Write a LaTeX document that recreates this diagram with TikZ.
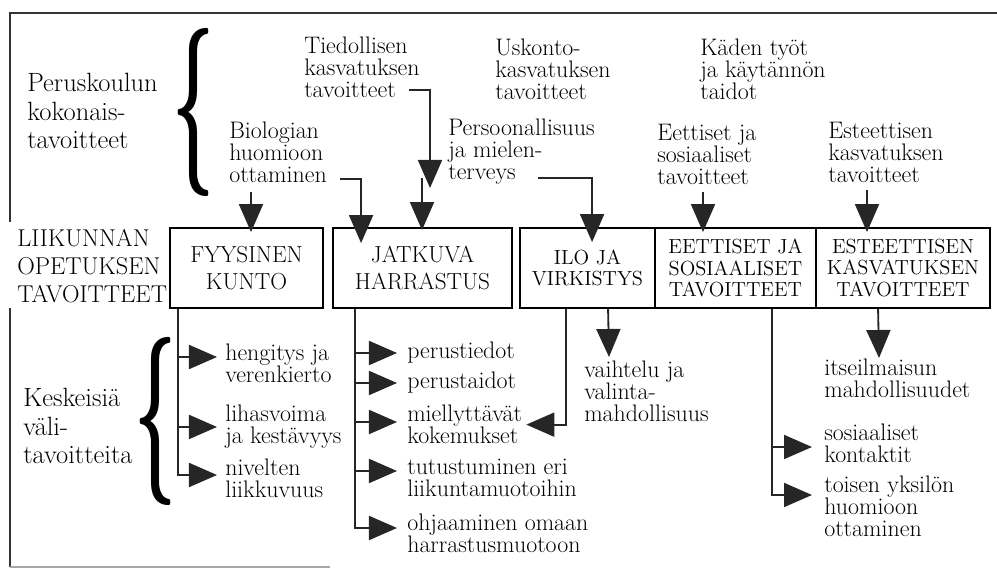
\documentclass[tikz,border=0pt]{standalone}
\usepackage{fontspec}
\usepackage{graphicx}
\usetikzlibrary{arrows.meta,calc}

\newcommand{\lblsize}{\fontsize{18.8}{20.3}\selectfont}
\newcommand{\capsize}{\fontsize{17.3}{19.9}\selectfont}
\newcommand{\txtsize}{\fontsize{17}{15.6}\selectfont}
\newcommand{\boxsize}{\fontsize{14.5}{15.3}\selectfont}
\newcommand{\bigboxsize}{\fontsize{16.5}{19.2}\selectfont}

\begin{document}
\begin{tikzpicture}[x=0.025cm, y=-0.025cm,
    txt/.style={anchor=north west, align=left, inner sep=0pt, font=\txtsize},
    lbl/.style={anchor=north west, align=left, inner sep=0pt, font=\lblsize},
    goal/.style={draw, line width=1.3pt, minimum height=2cm, align=center, inner sep=0pt, font=\boxsize},
    link/.style={line width=1.3pt, black!85},
    arr/.style={link, -{Triangle[length=0.7cm, width=0.6cm]}},
    frame/.style={line width=1.4pt, black!80}]

    \useasboundingbox (0,0) rectangle (997,569);

    % Outer frame
    \draw[frame] (10,222) -- (10,13) -- (997,13);
    \draw[frame] (10,308) -- (10,567);
    \draw[frame, black!35] (10,567) -- (330,567);

    % Labels on the left
    \node[lbl] (pk) at (27,73) {Peruskoulun\\kokonais-\\tavoitteet};
    \node[lbl, font=\capsize] (lo) at (17,229) {LIIKUNNAN\\OPETUKSEN\\TAVOITTEET};
    \node[lbl] (kv) at (23,388) {Keskeisiä\\väli-\\tavoitteita};

    % Braces
    \node[inner sep=0pt] (br1) at (194,112) {\resizebox*{1.05cm}{4.2cm}{\bfseries\{}};
    \node[inner sep=0pt] (br2) at (156,421) {\resizebox*{1.05cm}{4.2cm}{\bfseries\{}};

    % Overall aims of the school
    \node[txt] (tied) at (304,37) {Tiedollisen\\kasvatuksen\\tavoitteet};
    \node[txt] (usko) at (495,39) {Uskonto-\\kasvatuksen\\tavoitteet};
    \node[txt] (kade) at (700,39) {Käden työt\\ja käytännön\\taidot};
    \node[txt] (bio) at (229,122) {Biologian\\huomioon\\ottaminen};
    \node[txt] (pers) at (448,119) {Persoonallisuus\\ja mielen-\\terveys};
    \node[txt] (eet) at (657,124) {Eettiset ja\\sosiaaliset\\tavoitteet};
    \node[txt] (est) at (828,122) {Esteettisen\\kasvatuksen\\tavoitteet};

    % Aims of physical education
    \node[goal, minimum width=3.825cm, font=\bigboxsize] (fyys) at (246.5,268) {FYYSINEN\\KUNTO};
    \node[goal, minimum width=4.475cm, font=\bigboxsize] (jatk) at (422.5,268) {JATKUVA\\HARRASTUS};
    \node[goal, minimum width=3.375cm] (ilo) at (587.5,268) {ILO JA\\VIRKISTYS};
    \node[goal, minimum width=4.025cm] (eett) at (735.5,268) {EETTISET JA\\SOSIAALISET\\TAVOITTEET};
    \node[goal, minimum width=4.35cm] (este) at (903,268) {ESTEETTISEN\\KASVATUKSEN\\TAVOITTEET};

    % Arrows from the overall aims
    \coordinate (bioA) at (251,192);
    \coordinate (bioB) at (340,179);
    \coordinate (tiedA) at (409,90);
    \coordinate (tiedB) at (430,188);
    \coordinate (tiedC) at (422,178);
    \coordinate (persA) at (538,178);
    \coordinate (eetA) at (703,192);
    \coordinate (estA) at (867,190);
    \draw[arr] (bioA) -- ($(bioA |- fyys.north)+(0,5)$);
    \draw[arr] (bioB) -| ($(jatk.north west)+(29,16)$);
    \draw[arr] (tiedA) -| (tiedB);
    \draw[arr] (tiedC) -- ($(tiedC |- jatk.north)+(0,3)$);
    \draw[arr] (persA) -| ($(ilo.north west)+(73,15)$);
    \draw[arr] (eetA) -- ($(eetA |- eett.north)+(0,5)$);
    \draw[arr] (estA) -- ($(estA |- este.north)+(0,5)$);

    % Fyysinen kunto
    \node[txt] (heng) at (225,344) {hengitys ja\\verenkierto};
    \node[txt] (liha) at (225,405) {lihasvoima\\ja kestävyys};
    \node[txt] (niv) at (225,459) {nivelten\\liikkuvuus};
    \coordinate (fyT) at ($(fyys.south west)+(9,0)$);
    \draw[arr] (fyT) |- ($(niv.north west)+(-8,16)$);
    \draw[arr] ($(fyT |- heng.north)+(0,13)$) -- ($(heng.north west)+(-8,13)$);
    \draw[arr] (fyT |- liha.west) -- ($(liha.west)+(-8,0)$);

    % Jatkuva harrastus
    \node[txt] (ptd) at (407,342) {perustiedot};
    \node[txt] (ptt) at (407,372) {perustaidot};
    \node[txt] (miel) at (407,405) {miellyttävät\\kokemukset};
    \node[txt] (tutu) at (407,459) {tutustuminen eri\\liikuntamuotoihin};
    \node[txt] (ohja) at (407,514) {ohjaaminen omaan\\harrastusmuotoon};
    \coordinate (jaT) at ($(jatk.south west)+(23,0)$);
    \draw[arr] (jaT) |- ($(ohja.north west)+(-10,14)$);
    \draw[arr] ($(jaT |- ptd.north)+(0,11)$) -- ($(ptd.north west)+(-10,11)$);
    \draw[arr] ($(jaT |- ptt.north)+(0,11)$) -- ($(ptt.north west)+(-10,11)$);
    \draw[arr] ($(jaT |- miel.north)+(0,17)$) -- ($(miel.north west)+(-10,17)$);
    \draw[arr] ($(jaT |- tutu.north)+(0,12)$) -- ($(tutu.north west)+(-10,12)$);

    % Ilo ja virkistys
    \node[txt] (vaih) at (584,361) {vaihtelu ja\\valinta-\\mahdollisuus};
    \draw[arr] ($(ilo.south west)+(47,0)$) |- ($(miel.east)+(4,0)$);
    \draw[arr] ($(ilo.south west)+(89,0)$) -- ($(vaih.north west)+(25,-4)$);

    % Eettiset ja sosiaaliset tavoitteet
    \node[txt] (sosk) at (824,424) {sosiaaliset\\kontaktit};
    \node[txt] (tois) at (824,476) {toisen yksilön\\huomioon\\ottaminen};
    \coordinate (etT) at ($(eett.south west)+(118,0)$);
    \draw[arr] (etT) |- ($(tois.north west)+(-12,19)$);
    \draw[arr] ($(etT |- sosk.north)+(0,23)$) -- ($(sosk.north west)+(-12,23)$);

    % Esteettisen kasvatuksen tavoitteet
    \node[txt] (itse) at (824,359) {itseilmaisun\\mahdollisuudet};
    \draw[arr] ($(este.south west)+(63,0)$) -- ($(itse.north west)+(55,-1)$);
\end{tikzpicture}
\end{document}
